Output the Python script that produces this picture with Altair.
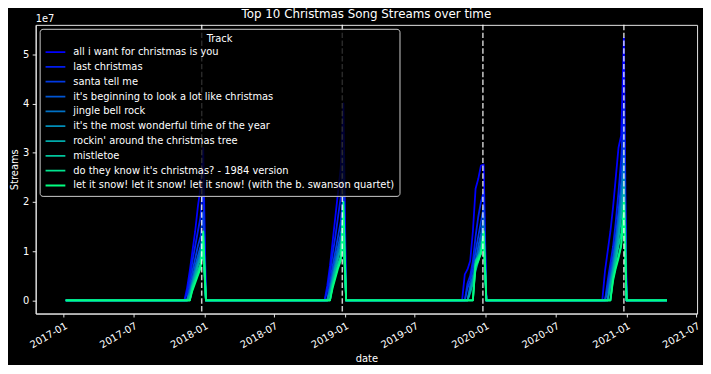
import altair as alt
import pandas as pd

tracks = [
    "all i want for christmas is you",
    "last christmas",
    "santa tell me",
    "it's beginning to look a lot like christmas",
    "jingle bell rock",
    "it's the most wonderful time of the year",
    "rockin' around the christmas tree",
    "mistletoe",
    "do they know it's christmas? - 1984 version",
    "let it snow! let it snow! let it snow! (with the b. swanson quartet)",
]
colors = ["#0000ff", "#001cf1", "#0039e3", "#0055d4", "#0071c6",
          "#008eb8", "#00aaaa", "#00c69c", "#00e38e", "#00ff80"]

first_week = "2017-01-06"
last_week = "2021-04-16"
season_peaks = ["2017-12-29", "2018-12-28", "2019-12-27", "2020-12-25"]
christmas_days = ["2017-12-25", "2018-12-25", "2019-12-25", "2020-12-25"]

# weekly streams in millions, weeks -8 .. 0 relative to each season peak
s2017 = [
    [0, 0, 2.5, 6, 10, 14, 19, 23, 31],
    [0, 0, 1.5, 4.5, 8, 11, 14, 17, 24],
    [0, 0, 0, 3, 6, 8.5, 11, 13, 18],
    [0, 0, 0, 2, 4.5, 7, 9, 11, 14],
    [0, 0, 0, 1.5, 4, 6, 8, 10, 13.5],
    [0, 0, 0, 1.5, 3.5, 5.5, 7.5, 9, 12],
    [0, 0, 0, 1, 3, 5, 7, 8.5, 12],
    [0, 0, 0, 0, 3, 4.5, 6, 7.5, 9.5],
    [0, 0, 0, 0, 2.5, 4, 5.5, 7, 10.5],
    [0, 0, 0, 0, 2, 3.5, 5, 6.5, 14],
]
s2018 = [
    [0, 0, 3, 7, 12, 17, 22, 27, 40],
    [0, 0, 2, 5.5, 9.5, 13, 17, 21, 30],
    [0, 0, 0, 3.5, 7, 10, 13, 16, 22],
    [0, 0, 0, 2.5, 5.5, 8.5, 11, 13.5, 18],
    [0, 0, 0, 2, 5, 7.5, 10, 12, 17],
    [0, 0, 0, 2, 4.5, 7, 9, 11, 15],
    [0, 0, 0, 1.5, 4, 6.5, 8.5, 10.5, 15],
    [0, 0, 0, 0, 3.5, 5.5, 7.5, 9, 12],
    [0, 0, 0, 0, 3, 5, 7, 8.5, 13],
    [0, 0, 0, 0, 2.5, 4.5, 6.5, 8, 20],
]
s2019 = [
    [0, 5.3, 6.3, 8, 14, 22.7, 24.7, 27.4, 27.6],
    [0, 0, 3.5, 5, 8, 13, 17, 20, 22],
    [0, 0, 2.5, 4, 6.5, 10, 13, 16, 19],
    [0, 0, 0, 3, 5, 8, 11, 13.5, 17],
    [0, 0, 0, 2.5, 4.5, 7, 9.5, 12, 16],
    [0, 0, 0, 2, 4, 6.5, 9, 11, 14],
    [0, 0, 0, 1.5, 3.5, 6, 8, 10, 14],
    [0, 0, 0, 0, 0, 8, 9, 10, 12],
    [0, 0, 0, 0, 0, 7.5, 8.5, 9.5, 12],
    [0, 0, 0, 0, 0, 7, 8, 9.5, 14],
]
s2020 = [
    [0, 6, 10, 14, 19, 25, 31, 33.5, 53.3],
    [0, 0, 4, 7.5, 11, 16, 22, 28.7, 40],
    [0, 0, 3, 6, 9, 13, 18, 24, 34],
    [0, 0, 2, 5, 8, 12, 17, 22.3, 30],
    [0, 0, 0, 4, 7, 11, 15.5, 20.7, 28],
    [0, 0, 0, 3.5, 6.5, 10, 14, 18.7, 25],
    [0, 0, 0, 3, 6, 9, 12.5, 16.7, 23],
    [0, 0, 0, 0, 5, 8, 11, 13.7, 18],
    [0, 0, 0, 0, 4.5, 7, 9, 11.3, 17],
    [0, 0, 0, 0, 4, 6.5, 8.5, 11, 20],
]
seasons = [s2017, s2018, s2019, s2020]

weeks = pd.date_range(first_week, last_week, freq="7D")
rows = []
for ti, track in enumerate(tracks):
    vals = {}
    for peak, season in zip(season_peaks, seasons):
        p = pd.Timestamp(peak)
        for k, v in enumerate(season[ti]):
            vals[p - pd.Timedelta(days=7 * (8 - k))] = v
    for w in weeks:
        rows.append({"date": w.strftime("%Y-%m-%dT00:00:00"), "track": track,
                     "streams": vals.get(w, 0) * 1e6})
df = pd.DataFrame(rows)
xmas = pd.DataFrame({"date": [d + "T00:00:00" for d in christmas_days]})

font = "DejaVu Sans"
x_ticks = [alt.DateTime(year=y, month=m, date=1) for y in range(2017, 2022) for m in (1, 7)][:10]
x_scale = alt.Scale(domain=[alt.DateTime(year=2016, month=10, date=20),
                            alt.DateTime(year=2021, month=7, date=3)], nice=False)
y_scale = alt.Scale(domain=[-2.665e6, 5.597e7], nice=False, zero=False)

x_enc = alt.X("date:T", scale=x_scale, title="date",
              axis=alt.Axis(values=x_ticks, format="%Y-%m", labelAngle=330,
                            labelAlign="right", labelBaseline="top", titlePadding=4))
y_enc = alt.Y("streams:Q", scale=y_scale, title="Streams",
              axis=alt.Axis(values=[0, 1e7, 2e7, 3e7, 4e7, 5e7],
                            labelExpr="format(datum.value / 1e7, 'd')", titlePadding=3))

lines = alt.Chart(df).mark_line(strokeWidth=1.8, strokeJoin="round", clip=True).encode(
    x=x_enc, y=y_enc,
    color=alt.Color("track:N", sort=tracks,
                    scale=alt.Scale(domain=tracks, range=colors),
                    legend=alt.Legend(title="Track", orient="none", legendX=4, legendY=4,
                                      fillColor="rgba(0,0,0,0.8)", strokeColor="#cccccc",
                                      cornerRadius=3, padding=5, symbolType="stroke",
                                      symbolSize=400, symbolStrokeWidth=1.8,
                                      labelFontSize=10, labelColor="white", labelFont=font,
                                      titleColor="white", titleFontSize=10, titleFont=font,
                                      titleFontWeight="normal", titleAnchor="middle",
                                      labelLimit=600, rowPadding=4, clipHeight=11,
                                      labelOffset=7, titlePadding=3)),
)

rules = alt.Chart(xmas).mark_rule(color="white", opacity=0.8, strokeWidth=1.5,
                                  strokeDash=[5.5, 2.4]).encode(x="date:T")

offset_txt = alt.Chart(pd.DataFrame({"t": ["1e7"]})).mark_text(
    align="left", baseline="alphabetic", fontSize=10, color="white", font=font
).encode(x=alt.value(0), y=alt.value(-3), text="t:N")

chart = alt.layer(lines, rules, offset_txt).properties(
    width=669, height=292,
    title=alt.TitleParams("Top 10 Christmas Song Streams over time", fontSize=12,
                          fontWeight="normal", color="white", anchor="middle",
                          frame="group", offset=-7, font=font),
    padding={"left": 28, "top": 15, "right": 6, "bottom": 50},
    autosize=alt.AutoSizeParams(type="none"),
).configure(background="black", font=font).configure_view(
    stroke="#e6e6e6", strokeWidth=1
).configure_axis(
    domainColor="#e6e6e6", tickColor="#e6e6e6", labelColor="white", titleColor="white",
    labelFontSize=10, titleFontSize=10, titleFontWeight="normal", grid=False,
    tickSize=3.5, labelPadding=3.5, labelFont=font, titleFont=font
)

chart.save("out.html", embed_options={"renderer": "svg", "actions": False})
